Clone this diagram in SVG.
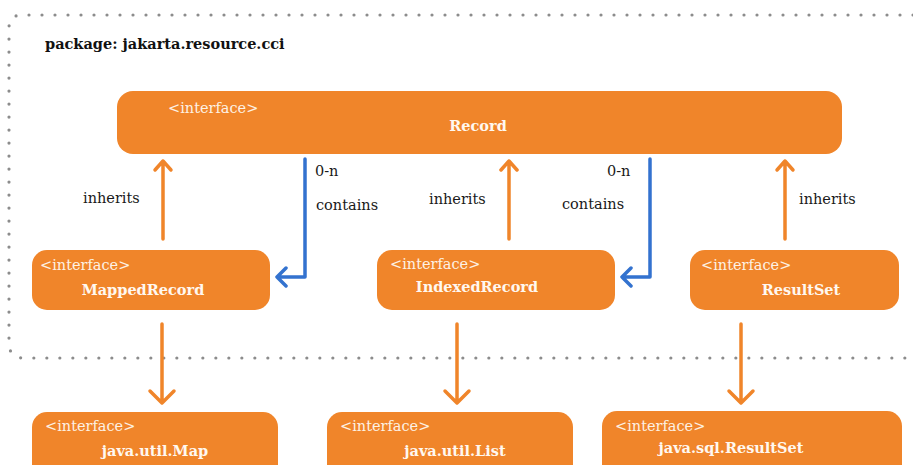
<svg xmlns="http://www.w3.org/2000/svg" width="913" height="465" viewBox="0 0 913 465">
<style>
.box{fill:#F0852A;}
.it{font-family:"DejaVu Serif","Liberation Serif",serif;font-size:14.5px;fill:#FDF1E4;}
.nm{font-family:"DejaVu Serif","Liberation Serif",serif;font-size:14.5px;font-weight:bold;fill:#FFF8F0;text-anchor:middle;}
.lb{font-family:"DejaVu Serif","Liberation Serif",serif;font-size:14.5px;fill:#1a1a1a;}
.pk{font-family:"DejaVu Serif","Liberation Serif",serif;font-size:14.5px;font-weight:bold;fill:#111;}
.or{stroke:#F0852A;stroke-width:3.5;fill:none;stroke-linecap:round;stroke-linejoin:round;}
.bl{stroke:#3372CF;stroke-width:3.5;fill:none;stroke-linecap:round;stroke-linejoin:round;}
.pkg{stroke:#8c8c8c;stroke-width:3.2;fill:none;stroke-dasharray:0 13;stroke-linecap:round;}
</style>
<g id="package">
<path class="pkg" d="M 913 15 H 22 Q 9 15 9 28 V 343 Q 9 358 24 358 H 913"/>
<text class="pk" x="45" y="49">package: jakarta.resource.cci</text>
</g>
<g id="connectors">
<path class="or" d="M163 239 V161 M155 170 L163 161 L171 170"/>
<path class="or" d="M509 239 V161 M501 170 L509 161 L517 170"/>
<path class="or" d="M785 239 V161 M777 170 L785 161 L793 170"/>
<path class="bl" d="M305 159 V277 H277 M286 268 L277 277 L286 286"/>
<path class="bl" d="M650 159 V277 H622 M631 268 L622 277 L631 286"/>
<path class="or" d="M162 324 V402 M150 391 L162 403 L174 391"/>
<path class="or" d="M457 324 V402 M445 391 L457 403 L469 391"/>
<path class="or" d="M741 324 V402 M729 391 L741 403 L753 391"/>
<text class="lb" x="83" y="203">inherits</text>
<text class="lb" x="429" y="204">inherits</text>
<text class="lb" x="799" y="204">inherits</text>
<text class="lb" x="315" y="176">0-n</text>
<text class="lb" x="316" y="210">contains</text>
<text class="lb" x="607" y="176">0-n</text>
<text class="lb" x="562" y="209">contains</text>
</g>
<g id="Record">
<rect class="box" x="117" y="91" width="725" height="63" rx="16"/>
<text class="it" x="168" y="113">&lt;interface&gt;</text>
<text class="nm" x="478" y="131">Record</text>
</g>
<g id="MappedRecord">
<rect class="box" x="32" y="250" width="238" height="60" rx="15"/>
<text class="it" x="40" y="270">&lt;interface&gt;</text>
<text class="nm" x="143" y="295">MappedRecord</text>
</g>
<g id="IndexedRecord">
<rect class="box" x="377" y="250" width="238" height="60" rx="15"/>
<text class="it" x="390" y="269">&lt;interface&gt;</text>
<text class="nm" x="477" y="292">IndexedRecord</text>
</g>
<g id="ResultSet">
<rect class="box" x="690" y="250" width="209" height="60" rx="15"/>
<text class="it" x="701" y="270">&lt;interface&gt;</text>
<text class="nm" x="801" y="295">ResultSet</text>
</g>
<g id="Map">
<rect class="box" x="32" y="412" width="246" height="70" rx="15"/>
<text class="it" x="45" y="431">&lt;interface&gt;</text>
<text class="nm" x="155" y="456">java.util.Map</text>
</g>
<g id="List">
<rect class="box" x="327" y="412" width="246" height="70" rx="15"/>
<text class="it" x="340" y="431">&lt;interface&gt;</text>
<text class="nm" x="455" y="456">java.util.List</text>
</g>
<g id="SqlResultSet">
<rect class="box" x="602" y="411" width="300" height="70" rx="15"/>
<text class="it" x="615" y="431">&lt;interface&gt;</text>
<text class="nm" x="731" y="453">java.sql.ResultSet</text>
</g>
</svg>
